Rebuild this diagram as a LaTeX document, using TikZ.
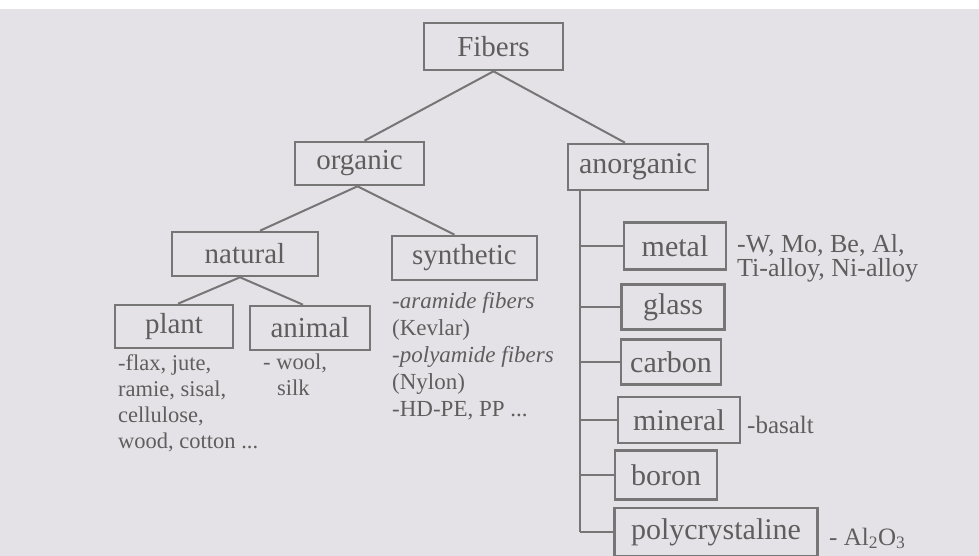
\documentclass[tikz,border=0pt]{standalone}
\usepackage{fontspec}
\setmainfont{Liberation Serif}
\definecolor{bggray}{HTML}{E4E2E6}
\definecolor{linegray}{HTML}{767676}
\definecolor{txtgray}{HTML}{5E5E5E}
\tikzset{
  box/.style={draw=linegray, line width=2.6pt, inner sep=0pt, text=txtgray,
    font=\fontsize{29}{29}\selectfont},
  rbox/.style={box, font=\fontsize{30}{30}\selectfont},
  conn/.style={draw=linegray, line width=2pt},
  note/.style={inner sep=0pt, align=left, text=txtgray}
}
\begin{document}
\begin{tikzpicture}[x=1pt,y=-1pt]
\useasboundingbox (0,0) rectangle (979,556);
\fill[bggray] (0,0) rectangle (979,556);
\fill[white] (0,0) rectangle (979,9);
\node[box, minimum width=139pt, minimum height=47pt] (fibers) at (493.5,46.5) {Fibers};
\node[box, minimum width=129pt, minimum height=43pt] (organic) at (359.5,163.5) {organic};
\node[rbox, minimum width=140pt, minimum height=46pt] (anorganic) at (638,167) {anorganic};
\node[box, minimum width=146pt, minimum height=44pt] (natural) at (245,254) {natural};
\node[box, minimum width=145pt, minimum height=44pt] (synthetic) at (464.5,258) {synthetic};
\node[box, minimum width=118pt, minimum height=43pt] (plant) at (174,326.5) {plant};
\node[box, minimum width=120pt, minimum height=44pt] (animal) at (310,328) {animal};
\node[rbox, minimum width=102pt, minimum height=47pt] (metal) at (675,246) {metal};
\node[rbox, minimum width=103pt, minimum height=45pt] (glass) at (673,307) {glass};
\node[rbox, minimum width=100pt, minimum height=45pt] (carbon) at (671,362) {carbon};
\node[rbox, minimum width=122pt, minimum height=46pt] (mineral) at (679,420) {mineral};
\node[rbox, minimum width=102pt, minimum height=49pt] (boron) at (666,475) {boron};
\node[rbox, minimum width=203pt, minimum height=48pt] (poly) at (716,532) {polycrystaline};

\draw[conn] (fibers.south) -- ([xshift=5pt]organic.north);
\draw[conn] (fibers.south) -- ([xshift=-13pt]anorganic.north);
\draw[conn] ([xshift=-2pt]organic.south) -- ([xshift=15pt]natural.north);
\draw[conn] ([xshift=-2pt]organic.south) -- ([xshift=-10pt]synthetic.north);
\draw[conn] ([xshift=-5pt]natural.south) -- ([xshift=4pt]plant.north);
\draw[conn] ([xshift=-5pt]natural.south) -- ([xshift=-7pt]animal.north);

\coordinate (trunk) at ([xshift=-58pt]anorganic.south);
\draw[conn] (trunk) -- (trunk |- poly.west);
\foreach \n in {metal,glass,carbon,mineral,boron,poly}
  \draw[conn] (trunk |- \n.west) -- (\n.west);

\node[note, anchor=north west, font=\fontsize{22.5}{26}\selectfont] (planttxt) at (118,354)
  {-flax, jute,\\ramie, sisal,\\cellulose,\\wood, cotton ...};
\node[note, anchor=north west, font=\fontsize{22.5}{26}\selectfont] (animaltxt) at (263,354)
  {- wool,\\\hspace*{14pt}silk};
\node[note, anchor=north west, font=\fontsize{23}{27}\selectfont] (synthtxt) at (392,292)
  {\textit{-aramide fibers}\\(Kevlar)\\\textit{-polyamide fibers}\\(Nylon)\\-HD-PE, PP ...};
\node[note, anchor=north west, font=\fontsize{26}{24}\selectfont] (metaltxt) at (737,234)
  {-W, Mo, Be, Al,\\Ti-alloy, Ni-alloy};
\node[note, anchor=base west, font=\fontsize{25}{25}\selectfont] (mineraltxt) at (747,433) {-basalt};
\node[note, anchor=base west, font=\fontsize{25}{25}\selectfont] (polytxt) at (829,545)
  {- Al\textsubscript{2}O\textsubscript{3}};
\end{tikzpicture}
\end{document}
